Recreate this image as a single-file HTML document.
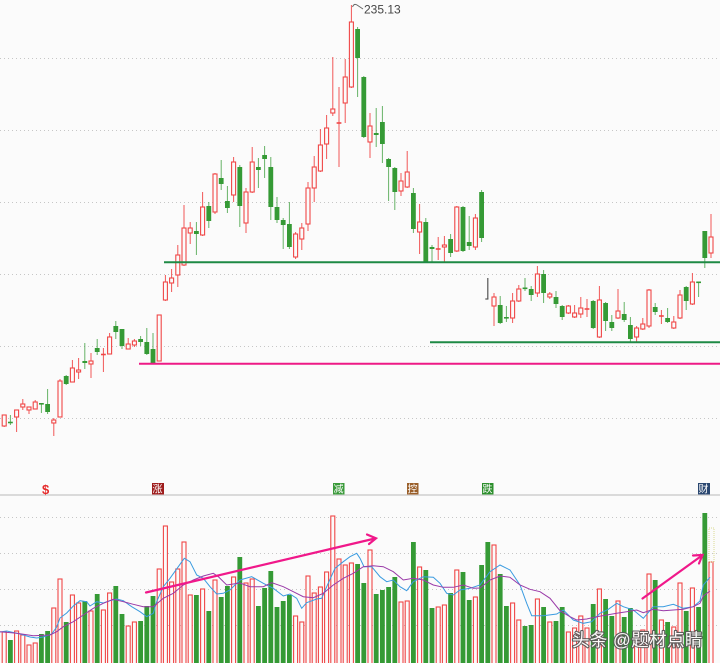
<!DOCTYPE html>
<html><head><meta charset="utf-8">
<style>
html,body{margin:0;padding:0;background:#fbfbfb;width:720px;height:663px;overflow:hidden;}
svg{display:block}
</style></head>
<body>
<svg id="chart" width="720" height="663" viewBox="0 0 720 663" xmlns="http://www.w3.org/2000/svg" font-family="'Liberation Sans','Noto Sans CJK SC',sans-serif">
<rect width="720" height="663" fill="#fbfbfb"/>
<g stroke="#c6c6c6" stroke-dasharray="1,3" stroke-width="1">
<line x1="0" x2="720" y1="58.5" y2="58.5"/>
<line x1="0" x2="720" y1="130.5" y2="130.5"/>
<line x1="0" x2="720" y1="202.5" y2="202.5"/>
<line x1="0" x2="720" y1="274.5" y2="274.5"/>
<line x1="0" x2="720" y1="346.5" y2="346.5"/>
<line x1="0" x2="720" y1="418.5" y2="418.5"/>
<line x1="0" x2="720" y1="517.5" y2="517.5"/>
<line x1="0" x2="720" y1="553.5" y2="553.5"/>
<line x1="0" x2="720" y1="589.5" y2="589.5"/>
<line x1="0" x2="720" y1="625.5" y2="625.5"/>
</g>
<line x1="0" x2="720" y1="495" y2="495" stroke="#dadada" stroke-width="2"/>
<g id="cand"></g>
<g id="vol"></g>
<!-- support lines -->
<line x1="164" x2="720" y1="262.3" y2="262.3" stroke="#1e8a45" stroke-width="2"/>
<line x1="430" x2="720" y1="342.3" y2="342.3" stroke="#1e8a45" stroke-width="2"/>
<line x1="139" x2="720" y1="363.7" y2="363.7" stroke="#ee1a86" stroke-width="2"/>
<!-- high label -->
<path d="M352.5,7 Q354,3 357,5 L363,9" fill="none" stroke="#666" stroke-width="1"/>
<text x="364" y="13.5" font-size="12" fill="#444">235.13</text>
<!-- markers -->
<text x="42" y="494" font-size="13" font-weight="bold" fill="#e52a2a">$</text>
<rect x="152" y="483" width="12" height="11.5" fill="#9e1c1c"/>
<text x="152.5" y="492.5" font-size="10" fill="#fff">涨</text>
<rect x="333" y="483" width="11.5" height="11.5" fill="#3a9a3a"/>
<text x="333.5" y="492.5" font-size="10" fill="#fff">减</text>
<rect x="407" y="483" width="11.5" height="11.5" fill="#9a5f2a"/>
<text x="407.5" y="492.5" font-size="10" fill="#fff">控</text>
<rect x="482" y="483" width="11.5" height="11.5" fill="#2d8f2d"/>
<text x="482.5" y="492.5" font-size="10" fill="#fff">跌</text>
<rect x="698" y="483" width="12" height="11.5" fill="#2a4770"/>
<text x="698.5" y="492.5" font-size="10" fill="#fff">财</text>
<!-- MA lines -->
<polyline id="blue" fill="none" stroke="#3a9be0" stroke-width="1" points="0,632 6.7,631 20,634 30,637 36.7,638 43.3,637 51.7,634 56.7,627 60,618 66.7,613 73.3,606 80,600.7 86.7,601.7 90,606 96.7,601.7 103.3,603 110,600.7 116.7,599 123.3,600.7 131.7,606.7 140,611.7 146.7,616.7 153.3,613.3 156.7,601.7 163.3,586.7 170,578.3 178.3,566.7 184.3,558.3 190,561.7 196.7,575 203.3,578.3 210,586.7 216.7,594 223.3,593.3 230,590 240,580 251.7,576.7 263.3,583.3 273.3,588.3 283.3,596 290,594 296.7,598.3 301.7,608.3 306.7,602.7 316.7,599 321.7,598.3 326.7,586.7 335,568.3 343.3,561.7 350,556.7 356.7,553.3 360,558.3 364,566.7 371.7,566.7 380,576.7 386.7,581.7 393.3,580 400,586.7 406.7,590.7 413.3,581.7 423.3,576.7 433.3,577.3 440,583.3 446.7,593.3 453.3,595 460,590 470,588.3 480,585 490,571.7 500,565 510,570 520,585 526.7,603.3 531.7,615.7 543.3,615.7 556.7,614 563.3,610 573.3,620 583.3,623.3 591.7,621.7 600,613.3 608.3,609.3 616.7,603.3 623.3,606.7 633.3,610 643.3,618.3 653.3,606.7 663.3,606.7 673.3,604.3 683.3,608.3 693.3,606.7 700,601 703.3,585 710,577.3"/>
<polyline fill="none" stroke="#9a3aa8" stroke-width="1" points="0,631.7 16.7,633.3 33.3,635.7 50,635 56.7,631.7 63.3,626.7 73.3,621.7 83.3,615 93.3,608.3 103.3,603.3 113.3,599.3 123.3,601.7 133.3,604.3 143.3,606.7 153.3,606.7 163.3,598.3 173.3,593.3 183.3,585 193.3,580 203.3,576 213.3,573.3 218.3,576.7 226.7,585 233.3,584 240,583 250,586.7 263.3,586.7 271.7,582.7 283.3,586.7 293.3,591.7 303.3,596.7 313.3,597.7 323.3,593.3 333.3,585 343.3,578.3 353.3,573.3 363.3,566.7 373.3,565.7 383.3,566.7 393.3,571.7 403.3,580 413.3,578.3 423.3,580 433.3,585 443.3,587.3 453.3,587.3 463.3,585 473.3,588.3 480,588 490,580 500,576 510,577.3 520,585 530,589.3 540,591.7 550,598.3 560,610.7 570,616.7 576.7,620 586.7,619 596.7,616.7 606.7,615 616.7,613.3 626.7,611.7 636.7,610 643.3,612.7 653.3,609.3 663.3,610.7 673.3,610 683.3,609.3 693.3,606.7 700,603.3 703.3,596 710,591"/>
<!-- yellow dotted box on last volume -->
<rect x="709" y="528" width="5" height="34" fill="none" stroke="#d8d890" stroke-width="1" stroke-dasharray="1,1"/>
<!-- arrows -->
<g stroke="#f0188a" stroke-width="2.2" fill="none" stroke-linecap="round">
<line x1="146" y1="592.5" x2="375" y2="538.5"/>
<polyline points="367,534.5 376,538.3 369,544"/>
<line x1="642.5" y1="598.5" x2="702" y2="555.5"/>
<polyline points="693,555.5 702.5,555 699,563.5"/>
</g>
<!-- watermark -->
<text x="572" y="646" font-size="17.5" letter-spacing="0.4" fill="#ffffff" stroke="#555" stroke-width="2.2" paint-order="stroke" stroke-linejoin="round" opacity="0.92">头条 @题材点睛</text>
</svg>
<script>
var C=[[415,426,415,427,'r'],[421.7,423.3,415,425,'g'],[410,417,410,432,'r'],[404,407,399,410,'r'],[407,410,407,414,'r'],[402,409,400,409,'r'],[403,404,403,413,'g'],[404,412,389,414,'g'],[420,423,418,436,'r'],[381,417,379,417,'r'],
[376,384,375,385,'g'],[368,382,360,382,'r'],[370,372,358,379,'r'],[361,363,343,369,'g'],[361,364,353,378,'r'],[348,352,339,355,'g'],[354,355,348,372,'r'],[337,354,333,354,'r'],[326,332,321,339,'g'],[329,346,329,349,'g'],
[344,349,338,349,'r'],[341,345,339,347,'r'],[339,342,336,346,'g'],[342,354,328,355,'g'],[349,363,333,363,'g'],[315,361,315,361,'r'],[282,300,275,301,'r'],[278,283,269,292,'r'],[255,275,245,287,'r'],[228,265,205,266,'r'],
[228,233,222,244,'r'],[231,234,222,255,'g'],[207,235,192,236,'r'],[206,221,202,228,'g'],[174,212,173,214,'r'],[178,184,160,190,'g'],[201,208,186,213,'g'],[162,195,157,202,'r'],[167,206,165,227,'g'],[192,223,188,233,'r'],
[162,192,147,193,'r'],[167,170,158,188,'g'],[155,159,146,178,'g'],[167,207,157,220,'g'],[207,220,197,223,'g'],[220,225,218,249,'g'],[224,247,202,249,'g'],[234,257,232,259,'r'],[228,239,223,250,'r'],[188,224,182,231,'r'],
[167,188,156,202,'r'],[145,171,129,172,'r'],[128,144,115,159,'r'],[109,113,57,116,'r'],[122.5,123.5,87,167,'r'],[77,103,59,123,'r'],[22,87,5,88,'r'],[29,58,27,97,'g'],[77,137,76,138,'g'],[126,142,113,158,'r'],
[133,135,108,147,'g'],[122,144,106,163,'g'],[159,167,158,201,'g'],[168,192,167,210,'g'],[181,191,173,196,'r'],[172,187,151,188,'r'],[193,229,188,233,'g'],[222,232,204,254,'r'],[222,262,218,263,'g'],[247,249,245,262,'g'],
[248.5,249.5,237,260,'r'],[245,247,236,262,'r'],[239,253,234,257,'g'],[207,251,206,252,'r'],[207,251,206,252,'g'],[242,246,216,250,'g'],[218,247,214,250,'r'],[192,238,190,242,'g'],[299,299,278,299,'k'],[297,306,293,326,'r'],
[305,323,296,324,'g'],[317,318,306,322,'g'],[301,318,293,323,'r'],[289,301,285,302,'r'],[287.5,288.5,278,291,'g'],[289,295,286,301,'g'],[274,293,266,297,'r'],[274,293,270,303,'g'],[294,297,292,299,'r'],[297,304,291,308,'g'],
[306,317,305,320,'g'],[306,313,305,314,'r'],[313,317,305,318,'r'],[308,314,297,318,'r'],[308.5,309.5,299,317,'r'],[301,328,300,329,'g'],[300,337,286,338,'r'],[303,321,302,331,'g'],[322,328,315,331,'g'],[311,318,289,319,'r'],
[314,320,302,322,'g'],[325,339,317,342,'g'],[328,337,326,342,'r'],[324,329,318,330,'r'],[290,326,289,328,'r'],[307,312,303,315,'g'],[315.5,316.5,310,324,'r'],[318,322,308,323,'g'],[322,328,316,329,'r'],[295,318,290,319,'r'],
[287,301,286,310,'g'],[282,304,273,305,'r'],[281.5,282.5,282,297,'g'],[231,258,231,268,'g'],[237,253,214,258,'r']];
var V=[632,640,631,635,645,643,634,631,608,579,622,595,603,601,611,594,610,593,586,614,626,622,621,606,596,569,526,582,569,542,595,595,589,611,580,597,586,577,557,583,579,606,588,571,607,601,595,616,622,576,593,587,572,516,559,565,563,564,583,550,594,590,587,577,602,601,542,567,570,608,607,605,593,570,572,600,597,565,542,545,574,606,603,620,626,625,599,607,622,621,607,632,628,616,628,604,589,599,616,601,617,608,632,630,574,580,620,622,627,583,611,588,607,513,562];
var RED='#f04646',GRN='#359a35',BG='#fbfbfb';
var s='',v='';
for(var i=0;i<C.length;i++){
 var c=C[i],x=+(4.2+6.2*i).toFixed(2);
 if(c[4]=='k'){
  s+='<line x1="'+x+'" x2="'+x+'" y1="'+c[2]+'" y2="'+c[3]+'" stroke="#555" stroke-width="1.2"/>';
  s+='<line x1="'+(x-2.5)+'" x2="'+(x+0.6)+'" y1="'+c[3]+'" y2="'+c[3]+'" stroke="#555" stroke-width="1.2"/>';
 } else {
  var col=c[4]=='r'?RED:GRN;
  s+='<line x1="'+x+'" x2="'+x+'" y1="'+c[2]+'" y2="'+c[3]+'" stroke="'+col+'" stroke-width="1" opacity="'+(c[4]=='g'?0.75:0.9)+'"/>';
  var h=c[1]-c[0];
  if(c[4]=='r'){
   if(h<1.5){s+='<rect x="'+(x-2.4)+'" y="'+(c[0]-0.3)+'" width="4.8" height="1.6" fill="'+col+'"/>';}
   else s+='<rect x="'+(x-2)+'" y="'+c[0]+'" width="4" height="'+h+'" fill="'+BG+'" stroke="'+col+'" stroke-width="1.1"/>';
  } else {
   s+='<rect x="'+(x-2.4)+'" y="'+c[0]+'" width="4.8" height="'+Math.max(h,1.6)+'" fill="'+col+'"/>';
  }
 }
 var t=V[i],vc=(c[4]=='r')?'r':'g';
 if(vc=='r') v+='<rect x="'+(x-2)+'" y="'+t+'" width="4" height="'+(663-t+2)+'" fill="'+BG+'" stroke="'+RED+'" stroke-width="1.1"/>';
 else v+='<rect x="'+(x-2.4)+'" y="'+t+'" width="4.8" height="'+(663-t+2)+'" fill="'+GRN+'"/>';
}
document.getElementById('cand').innerHTML=s;
document.getElementById('vol').innerHTML=v;
</script>
</body></html>
